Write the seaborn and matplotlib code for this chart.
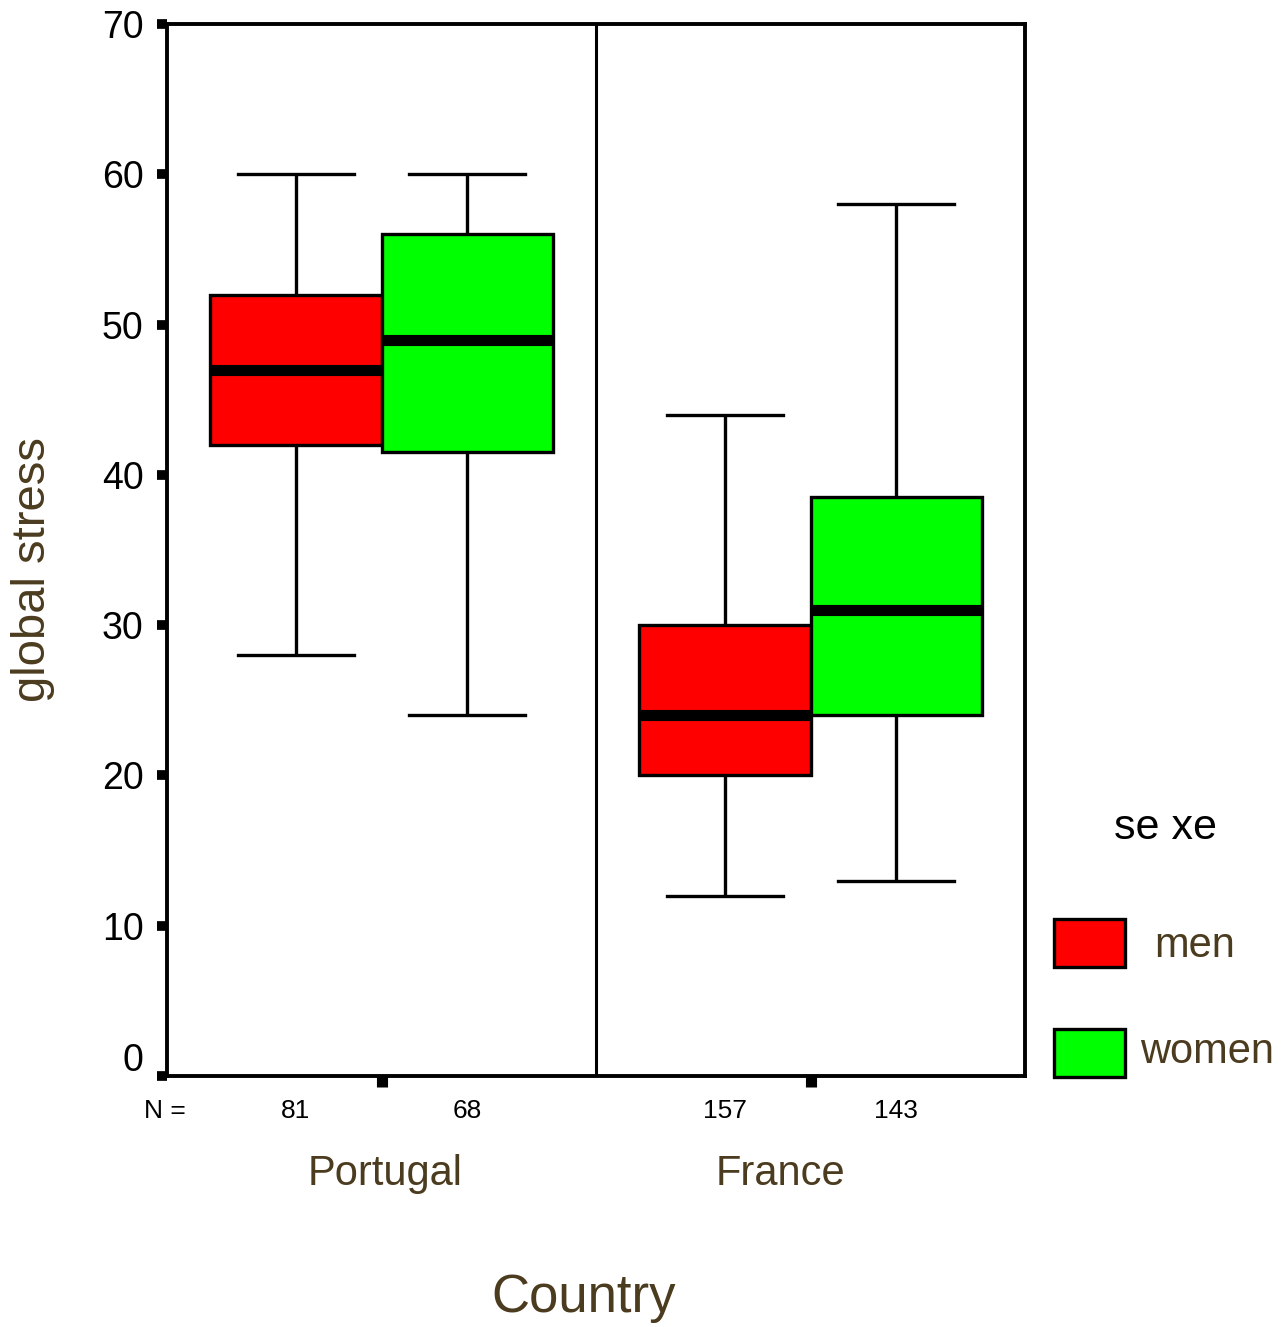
import numpy as np
import pandas as pd
import matplotlib
matplotlib.use("Agg")
import matplotlib.pyplot as plt
from matplotlib.patches import Rectangle
from matplotlib.transforms import ScaledTranslation
import seaborn as sns

# Five-number summaries (low whisker, Q1, median, Q3, high whisker)
countries = ["Portugal", "France"]
sexes = ["men", "women"]
portugal_men = [28, 42, 47, 52, 60]
portugal_women = [24, 41.5, 49, 56, 60]
france_men = [12, 20, 24, 30, 44]
france_women = [13, 24, 31, 38.5, 58]
group_sizes = [81, 68, 157, 143]
yticks = [0, 10, 20, 30, 40, 50, 60, 70]

summaries = {
    ("Portugal", "men"): portugal_men,
    ("Portugal", "women"): portugal_women,
    ("France", "men"): france_men,
    ("France", "women"): france_women,
}
rows = []
for (c, s), vals in summaries.items():
    for v in vals:
        rows.append({"Country": c, "sexe": s, "stress": v})
df = pd.DataFrame(rows)

plt.rcParams["font.family"] = ["Liberation Sans", "DejaVu Sans"]
brown = "#4b3b1f"

fig = plt.figure(figsize=(12.81, 13.27), dpi=100)
ax = fig.add_axes([167 / 1281, 1 - 1076 / 1327, (1025 - 167) / 1281, (1076 - 24) / 1327])

sns.boxplot(
    data=df, x="Country", y="stress", hue="sexe",
    order=countries, hue_order=sexes,
    palette={"men": "#ff0000", "women": "#00ff00"},
    saturation=1, width=0.8, gap=0, whis=(0, 100),
    linecolor="black", linewidth=2.4,
    medianprops=dict(color="black", linewidth=8),
    capwidths=0.27,
    legend=False, ax=ax,
)

ax.set_xlim(-0.5, 1.5)
ax.set_ylim(0, 70)
ax.axvline(0.5, color="black", linewidth=2.2)

for sp in ax.spines.values():
    sp.set_visible(True)
    sp.set_linewidth(2.8)
    sp.set_color("black")

ax.set_yticks(yticks)
ax.set_yticklabels([str(t) for t in yticks])
ax.tick_params(axis="y", direction="out", length=7, width=7, pad=10,
               labelsize=27, colors="black")
ax.tick_params(axis="x", direction="out", length=8, width=8, pad=48,
               labelsize=30, labelcolor=brown)
ax.set_xticks([0, 1])
ax.set_xticklabels(countries)

# nudge the category labels sideways
shifts = {"Portugal": 0.04, "France": -0.30}
for lab in ax.get_xticklabels():
    dx = shifts.get(lab.get_text(), 0)
    lab.set_transform(lab.get_transform() + ScaledTranslation(dx, 0, fig.dpi_scale_trans))

# lift the zero label above its tick
for lab in ax.get_yticklabels():
    if lab.get_text() == "0":
        lab.set_transform(lab.get_transform() + ScaledTranslation(0, 0.19, fig.dpi_scale_trans))

ax.set_ylabel("global stress", fontsize=34, color=brown)
ax.yaxis.set_label_coords(-0.156, 0.481)
ax.yaxis.label.set_va("center")
ax.set_xlabel("Country", fontsize=38, color=brown)
ax.xaxis.set_label_coords(0.485, -0.211)
ax.xaxis.label.set_va("center")

# group sizes under each box
ntrans = ax.get_xaxis_transform()
positions = [-0.2, 0.2, 0.8, 1.2]
for pos, n in zip(positions, group_sizes):
    ax.text(pos, -0.0333, str(n), transform=ntrans, ha="center", va="center",
            fontsize=19, color="black")
ax.text(-0.002, -0.0333, "N =", transform=ax.transAxes, ha="center", va="center",
        fontsize=19, color="black")

# legend
fig.text(1166 / 1281, 1 - 828 / 1327, "se xe", ha="center", va="center",
         fontsize=31, color="black")
for (y0, col, lbl, lx, ly) in [(967, "#ff0000", "men", 1195, 946),
                               (1077, "#00ff00", "women", 1207, 1052)]:
    fig.add_artist(Rectangle((1054 / 1281, 1 - y0 / 1327), 71 / 1281, 48 / 1327,
                             facecolor=col, edgecolor="black", linewidth=2.4,
                             transform=fig.transFigure))
    fig.text(lx / 1281, 1 - ly / 1327, lbl, ha="center", va="center",
             fontsize=30, color=brown)

fig.savefig("out.png", dpi=100)
